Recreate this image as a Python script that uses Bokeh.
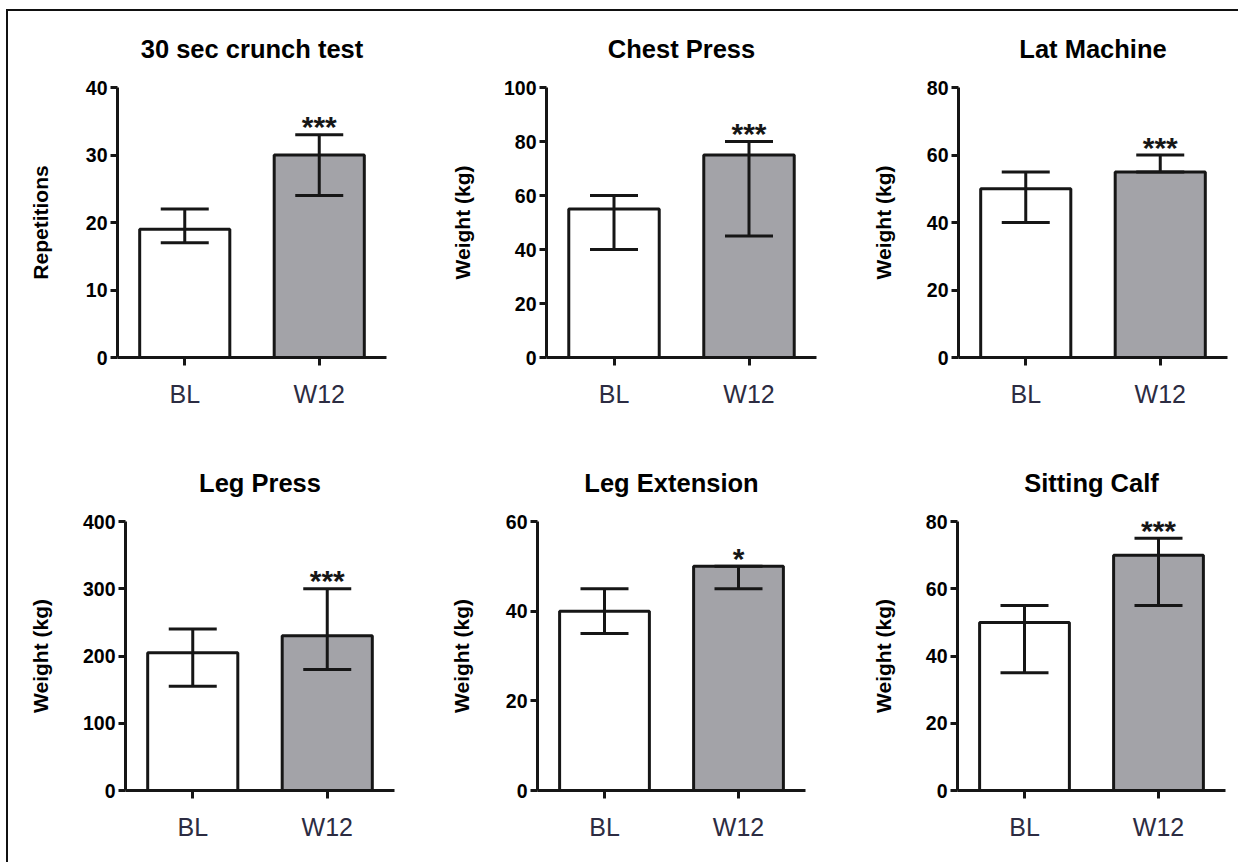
from bokeh.plotting import figure
from bokeh.models import ColumnDataSource, FactorRange, Range1d, Whisker, TeeHead, FixedTicker, Div
from bokeh.layouts import row, column
from bokeh.embed import file_html
from bokeh.resources import INLINE
from bokeh.core.properties import value

# ---------------- data ----------------
groups = ["BL", "W12"]

titles = ["30 sec crunch test", "Chest Press", "Lat Machine",
          "Leg Press", "Leg Extension", "Sitting Calf"]
y_labels = ["Repetitions", "Weight (kg)", "Weight (kg)",
            "Weight (kg)", "Weight (kg)", "Weight (kg)"]
y_max = [40, 100, 80, 400, 60, 80]
y_step = [10, 20, 20, 100, 20, 20]

crunch_mean = [19, 30]
crunch_low = [17, 24]
crunch_high = [22, 33]

chest_mean = [55, 75]
chest_low = [40, 45]
chest_high = [60, 80]

lat_mean = [50, 55]
lat_low = [40, 55]
lat_high = [55, 60]

legpress_mean = [205, 230]
legpress_low = [155, 180]
legpress_high = [240, 300]

legext_mean = [40, 50]
legext_low = [35, 45]
legext_high = [45, 50]

calf_mean = [50, 70]
calf_low = [35, 55]
calf_high = [55, 75]

stars = ["***", "***", "***", "***", "*", "***"]

means = [crunch_mean, chest_mean, lat_mean, legpress_mean, legext_mean, calf_mean]
lows = [crunch_low, chest_low, lat_low, legpress_low, legext_low, calf_low]
highs = [crunch_high, chest_high, lat_high, legpress_high, legext_high, calf_high]

# ---------------- style / layout ----------------
FONT = "Liberation Sans"
INK = "#161616"
BAR_FILLS = ["#ffffff", "#a3a3a8"]
XLAB_COLOR = "#2c2c42"

# (width, height, border_left, border_right, border_top, border_bottom, ylabel_standoff)
geom = [
    (412, 409, 109, 34, 76, 63, 31),
    (410, 409, 126, 14, 76, 63, 27),
    (406, 409, 128, 9, 76, 63, 29),
    (412, 440, 117, 26, 101, 70, 28),
    (410, 440, 117, 25, 101, 70, 30),
    (406, 440, 127, 11, 101, 70, 28),
]


def make_panel(i):
    w, h, bl, br, bt, bb, lstand = geom[i]
    p = figure(x_range=FactorRange(factors=groups, range_padding=0),
               y_range=Range1d(0, y_max[i]),
               width=w, height=h,
               min_border_left=bl, min_border_right=br,
               min_border_top=bt, min_border_bottom=bb,
               output_backend="svg", toolbar_location=None,
               title=titles[i], margin=0)
    p.background_fill_color = "white"
    p.border_fill_color = "white"
    p.outline_line_color = None
    p.xgrid.visible = False
    p.ygrid.visible = False

    p.title.text_font = FONT
    p.title.text_font_size = "25.5px"
    p.title.text_font_style = "bold"
    p.title.text_color = "black"
    p.title.align = "center"
    p.title.vertical_align = "top"
    p.title.standoff = 46

    src = ColumnDataSource(data=dict(x=groups, top=means[i], lower=lows[i],
                                     upper=highs[i], fill=BAR_FILLS))
    p.vbar(x="x", top="top", width=0.67, bottom=0, source=src,
           fill_color="fill", line_color=INK, line_width=3)

    wh = Whisker(base="x", upper="upper", lower="lower", source=src,
                 line_color=INK, line_width=3, level="overlay",
                 upper_head=TeeHead(size=48, line_color=INK, line_width=3),
                 lower_head=TeeHead(size=48, line_color=INK, line_width=3))
    p.add_layout(wh)

    star_src = ColumnDataSource(data=dict(x=[groups[1]], y=[highs[i][1]],
                                          text=[stars[i]]))
    p.text(x="x", y="y", text="text", source=star_src,
           text_font=value(FONT), text_font_size="30px", text_font_style="bold",
           text_color=INK, text_align="center", text_baseline="alphabetic",
           y_offset=-8)

    # y axis
    yax = p.yaxis[0]
    yax.ticker = FixedTicker(ticks=list(range(0, y_max[i] + 1, y_step[i])))
    yax.axis_line_width = 3
    yax.axis_line_color = INK
    yax.major_tick_line_width = 3
    yax.major_tick_line_color = INK
    yax.major_tick_in = 0
    yax.major_tick_out = 7
    yax.minor_tick_line_color = None
    yax.major_label_text_font = FONT
    yax.major_label_text_font_size = "19.5px"
    yax.major_label_text_font_style = "bold"
    yax.major_label_text_color = "black"
    yax.major_label_standoff = 3
    yax.axis_label = y_labels[i]
    yax.axis_label_text_font = FONT
    yax.axis_label_text_font_size = "21px"
    yax.axis_label_text_font_style = "bold"
    yax.axis_label_text_color = "black"
    yax.axis_label_standoff = lstand

    # x axis
    xax = p.xaxis[0]
    xax.axis_line_width = 3
    xax.axis_line_color = INK
    xax.major_tick_line_width = 3
    xax.major_tick_line_color = INK
    xax.major_tick_in = 0
    xax.major_tick_out = 8
    xax.minor_tick_line_color = None
    xax.major_label_text_font = FONT
    xax.major_label_text_font_size = "25px"
    xax.major_label_text_color = XLAB_COLOR
    xax.major_label_standoff = 14
    return p


panels = [make_panel(i) for i in range(6)]
grid = column(row(*panels[:3], margin=0), row(*panels[3:], margin=0), margin=0)

top_line = Div(text="", width=1232, height=2, margin=0,
               styles={"background-color": "#111111"})
left_line = Div(text="", width=2, height=851, margin=0,
                styles={"background-color": "#111111"})

layout = column(top_line, row(left_line, grid, margin=0), margin=(9, 0, 0, 6))

open("out.html", "w").write(file_html(layout, INLINE))
